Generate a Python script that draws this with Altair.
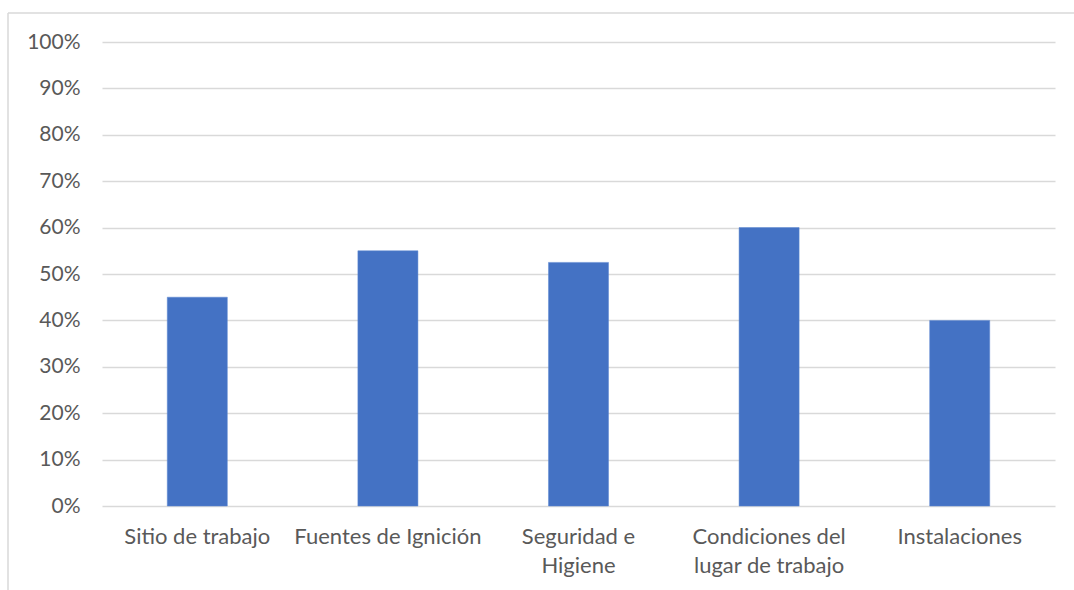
import altair as alt
import pandas as pd

categories = ["Sitio de trabajo", "Fuentes de Ignición", "Seguridad e Higiene",
              "Condiciones del lugar de trabajo", "Instalaciones"]
values = [0.45, 0.55, 0.525, 0.60, 0.40]
label_lines = {
    "Seguridad e Higiene": ["Seguridad e", "Higiene"],
    "Condiciones del lugar de trabajo": ["Condiciones del", "lugar de trabajo"],
}

df = pd.DataFrame({"cat": categories, "val": values})

expr_parts = []
for k, v in label_lines.items():
    arr = "[" + ",".join("'" + s + "'" for s in v) + "]"
    expr_parts.append(f"datum.label == '{k}' ? {arr} : ")
label_expr = "".join(expr_parts) + "datum.label"

FONT = "Lato"
TXT = "#595959"

bars = alt.Chart(df).mark_bar(color="#4472C4", stroke="#5B87D0", strokeWidth=0.5).encode(
    x=alt.X("cat:N", sort=categories, title=None,
            scale=alt.Scale(paddingInner=0.685, paddingOuter=0.3425),
            axis=alt.Axis(labelAngle=0, labelExpr=label_expr, labelFont=FONT,
                          labelFontSize=22, labelColor=TXT, labelPadding=20,
                          labelLineHeight=29, ticks=False, domain=False,
                          labelLimit=300)),
    y=alt.Y("val:Q", title=None,
            scale=alt.Scale(domain=[0, 1], nice=False),
            axis=alt.Axis(format=".0%", values=[i / 10 for i in range(11)],
                          labelFont=FONT, labelFontSize=21, labelColor=TXT,
                          labelPadding=22, ticks=False, domain=False,
                          grid=True, gridColor="#D9D9D9", gridWidth=1.5)),
)

border_df = pd.DataFrame({"k": [0]})
border = alt.Chart(border_df).mark_rule(color="#D9D9D9", strokeWidth=1.5).encode(
    x=alt.value(-94), y=alt.value(-29), y2=alt.value(600)
)
border_top = alt.Chart(border_df).mark_rule(color="#D9D9D9", strokeWidth=1.5).encode(
    x=alt.value(-94), x2=alt.value(1000), y=alt.value(-29)
)

chart = alt.layer(border, border_top, bars).properties(
    width=953, height=464,
    autosize=alt.AutoSizeParams(type="none"),
    padding={"left": 102, "top": 42, "right": 19, "bottom": 84},
    background="white",
).configure_view(stroke=None)

chart.save("out.html", embed_options={"renderer": "svg", "actions": False})
